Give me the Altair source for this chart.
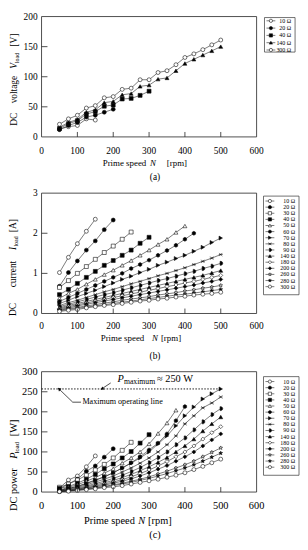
import altair as alt
import pandas as pd

FONT = "Liberation Serif"

# ---------------- data ----------------
N_ALL = [50, 75, 100, 125, 150, 175, 200, 225, 250, 275, 300, 325, 350, 375, 400, 425, 450, 475, 500]
X_TICKS = [0, 100, 200, 300, 400, 500, 600]
X_INNER = [100, 200, 300, 400, 500]
YA_TICKS = [0, 50, 100, 150, 200]
YB_TICKS = [0, 1, 2, 3]
YC_TICKS = [0, 50, 100, 150, 200, 250, 300]

SERIES = ["10 Ω", "20 Ω", "30 Ω", "40 Ω", "50 Ω", "60 Ω", "70 Ω", "80 Ω", "90 Ω",
          "140 Ω", "180 Ω", "200 Ω", "260 Ω", "280 Ω", "300 Ω"]
A_SERIES = ["10 Ω", "20 Ω", "40 Ω", "140 Ω", "300 Ω"]

# (a) DC voltage [V]
VA_10 = [13, 17, 19, 30, 28]
VA_20 = [12, 19, 24, 33, 36, 41, 46]
VA_40 = [14, 22, 27, 38, 42, 51, 53, 63, 64, 69, 76]
VA_140 = [16, 24, 29, 41, 45, 57, 59, 70, 72, 84, 86, 96, 98, 110, 122, 129, 136, 143, 150]
VA_300 = [21, 30, 36, 48, 52, 65, 67, 79, 81, 95, 95, 107, 110, 120, 132, 138, 145, 153, 161]

# (b) DC current [A]
IB_10 = [1.02, 1.40, 1.74, 2.05, 2.35]
IB_20 = [0.68, 1.02, 1.31, 1.58, 1.81, 2.09, 2.33]
IB_30 = [0.65, 0.82, 1.0, 1.17, 1.35, 1.52, 1.68, 1.85, 2.03]
IB_40 = [0.47, 0.6, 0.75, 0.9, 1.05, 1.2, 1.32, 1.45, 1.58, 1.75, 1.9]
IB_50 = [0.38, 0.5, 0.6, 0.73, 0.85, 0.97, 1.08, 1.2, 1.32, 1.45, 1.58, 1.72, 1.85, 2.02, 2.18]
IB_60 = [0.3, 0.4, 0.5, 0.6, 0.7, 0.8, 0.9, 1.0, 1.12, 1.22, 1.33, 1.45, 1.57, 1.7, 1.85, 2.0]
IB_70 = [0.25, 0.33, 0.42, 0.5, 0.58, 0.67, 0.76, 0.85, 0.93, 1.02, 1.1, 1.2, 1.28, 1.37, 1.45, 1.55, 1.65, 1.77, 1.88]
IB_80 = [0.2, 0.27, 0.33, 0.4, 0.47, 0.54, 0.6, 0.67, 0.74, 0.8, 0.87, 0.94, 1.0, 1.07, 1.14, 1.22, 1.3, 1.38, 1.47]
IB_90 = [0.17, 0.23, 0.29, 0.35, 0.41, 0.47, 0.52, 0.58, 0.64, 0.7, 0.76, 0.82, 0.87, 0.93, 0.99, 1.05, 1.12, 1.18, 1.25]
IB_140 = [0.14, 0.2, 0.25, 0.3, 0.35, 0.4, 0.45, 0.5, 0.55, 0.6, 0.65, 0.7, 0.75, 0.8, 0.85, 0.9, 0.95, 1.01, 1.07]
IB_180 = [0.12, 0.17, 0.22, 0.26, 0.31, 0.35, 0.4, 0.44, 0.49, 0.53, 0.58, 0.62, 0.67, 0.71, 0.76, 0.8, 0.85, 0.9, 0.95]
IB_200 = [0.1, 0.14, 0.19, 0.23, 0.27, 0.31, 0.35, 0.39, 0.43, 0.47, 0.51, 0.55, 0.59, 0.63, 0.67, 0.71, 0.76, 0.8, 0.85]
IB_260 = [0.08, 0.12, 0.15, 0.19, 0.22, 0.26, 0.29, 0.33, 0.36, 0.39, 0.42, 0.46, 0.49, 0.52, 0.56, 0.59, 0.63, 0.66, 0.7]
IB_280 = [0.07, 0.1, 0.13, 0.16, 0.19, 0.22, 0.25, 0.28, 0.31, 0.34, 0.37, 0.4, 0.43, 0.46, 0.48, 0.51, 0.54, 0.57, 0.6]
IB_300 = [0.05, 0.08, 0.1, 0.14, 0.17, 0.2, 0.22, 0.25, 0.28, 0.31, 0.33, 0.36, 0.38, 0.41, 0.43, 0.46, 0.48, 0.5, 0.53]

# (c) DC power [W]
PC_10 = [10, 30, 40, 63, 90]
PC_20 = [8, 20, 32, 52, 65, 87, 108]
PC_30 = [12, 20, 30, 42, 55, 69, 85, 104, 124]
PC_40 = [9, 14, 22, 32, 44, 58, 70, 85, 101, 122, 143]
PC_50 = [5, 12, 18, 27, 36, 47, 58, 72, 85, 100, 120, 146, 172, 204]
PC_60 = [4, 9, 14, 21, 29, 38, 48, 60, 73, 88, 105, 122, 145, 178, 213]
PC_70 = [4, 9, 14, 22, 30, 38, 48, 60, 72, 85, 100, 120, 140, 165, 190, 212, 232, 245, 257]
PC_80 = [3, 7, 12, 18, 25, 32, 40, 50, 60, 72, 85, 100, 118, 140, 170, 190, 210, 222, 237]
PC_90 = [3, 6, 10, 15, 21, 27, 34, 42, 51, 61, 73, 86, 100, 118, 135, 155, 175, 193, 208]
PC_140 = [2, 5, 8, 13, 18, 23, 29, 36, 44, 53, 63, 74, 86, 100, 115, 132, 152, 170, 187]
PC_180 = [2, 4, 7, 11, 15, 20, 25, 31, 38, 46, 55, 65, 76, 88, 100, 115, 132, 148, 163]
PC_200 = [2, 4, 6, 10, 13, 17, 22, 27, 33, 40, 48, 57, 66, 77, 88, 100, 115, 130, 145]
PC_260 = [1, 3, 5, 8, 11, 14, 18, 22, 27, 32, 38, 45, 52, 60, 68, 77, 88, 99, 110]
PC_280 = [1, 3, 5, 7, 10, 13, 16, 20, 24, 29, 34, 40, 46, 53, 60, 68, 77, 87, 97]
PC_300 = [1, 2, 4, 6, 8, 11, 13, 16, 20, 24, 28, 32, 37, 42, 48, 56, 64, 73, 82]

P_MAX_LINE = 257
P_MAX_TEXT = "≈ 250 W"
MAX_OP_TEXT = "Maximum operating line"

# ---------------- styling ----------------
STAR = "M0,-1L0.2245,-0.309L0.951,-0.309L0.363,0.118L0.588,0.809L0,0.382L-0.588,0.809L-0.363,0.118L-0.951,-0.309L-0.2245,-0.309Z"
HEX = "M0,-1L0.866,-0.5L0.866,0.5L0,1L-0.866,0.5L-0.866,-0.5Z"
AST = "M-0.8,-0.8L0.8,0.8M-0.8,0.8L0.8,-0.8M-1,0L1,0"
HALF = "M-0.35,-1L0,-1A1,1,0,0,1,0,1L-0.35,1Z"
SHAPES = ["circle", "circle", "square", "square", "triangle-up", HEX, "triangle-right", AST, HALF,
          "triangle-up", "diamond", "diamond", STAR, STAR, "circle"]
FILLS = ["white", "black", "white", "black", "white", "black", "black", "white", "black",
         "black", "white", "black", "white", "black", "white"]
SHAPE_SCALE = alt.Scale(domain=SERIES, range=SHAPES)
FILL_SCALE = alt.Scale(domain=SERIES, range=FILLS)

W, H = 218, 122
TOPS = {"a": 0, "b": 179, "c": 360}
ONE = pd.DataFrame({"k": [0]})
XS = alt.Scale(domain=[0, 600], nice=False, zero=False)


def long_df(pairs):
    rows = []
    for lab, vals in pairs:
        for n, v in zip(N_ALL, vals):
            rows.append({"R": lab, "N": n, "v": v})
    return pd.DataFrame(rows)


def txt(s, x, y, size, italic=False, angle=0, align="center"):
    kw = dict(text=s, font=FONT, fontSize=size, color="black", align=align, baseline="middle")
    if italic:
        kw["fontStyle"] = "italic"
    if angle:
        kw["angle"] = angle
    return alt.Chart(ONE).mark_text(**kw).encode(x=alt.value(x), y=alt.value(y))


def panel(T, df, ymax, yticks, leg_labels, leg, ytitle, xtitle, caption, xlab_dy, extra_fn=None):
    ys = alt.Scale(domain=[0, ymax], range=[T + H, T], nice=False, zero=False)
    fsz = ytitle["size"]
    X = alt.X("N:Q", scale=XS, axis=None)
    Y = alt.Y("v:Q", scale=ys, axis=None)
    layers = []
    frame = alt.Chart(ONE).mark_rect(fill="white", stroke="#222", strokeWidth=0.8).encode(
        x=alt.value(0), x2=alt.value(W), y=alt.value(T), y2=alt.value(T + H))
    layers.append(frame)
    if extra_fn is not None:
        layers += extra_fn(ys)
    lines = alt.Chart(df).mark_line(color="#222", strokeWidth=0.6).encode(
        x=X, y=Y, detail="R:N", order="N:Q")
    pts = alt.Chart(df).mark_point(filled=True, size=16, stroke="#111", strokeWidth=0.6, opacity=1).encode(
        x=X, y=Y,
        shape=alt.Shape("R:N", scale=SHAPE_SCALE, legend=None),
        fill=alt.Fill("R:N", scale=FILL_SCALE, legend=None))
    layers += [lines, pts]
    # inward tick marks
    xt = alt.Chart(pd.DataFrame({"t": X_INNER})).mark_rule(color="#222", strokeWidth=0.8).encode(
        x=alt.X("t:Q", scale=XS, axis=None), y=alt.value(T + H), y2=alt.value(T + H - 5))
    yt = alt.Chart(pd.DataFrame({"t": yticks[1:-1]})).mark_rule(color="#222", strokeWidth=0.8).encode(
        y=alt.Y("t:Q", scale=ys, axis=None), x=alt.value(0), x2=alt.value(6))
    # tick labels
    xl = alt.Chart(pd.DataFrame({"t": X_TICKS})).mark_text(
        font=FONT, fontSize=fsz, color="black", align="center", baseline="middle").encode(
        x=alt.X("t:Q", scale=XS, axis=None), y=alt.value(T + H + xlab_dy), text="t:Q")
    yl = alt.Chart(pd.DataFrame({"t": yticks})).mark_text(
        font=FONT, fontSize=fsz, color="black", align="right", baseline="middle").encode(
        y=alt.Y("t:Q", scale=ys, axis=None), x=alt.value(-4), text="t:Q")
    layers += [xt, yt, xl, yl]
    for s, x, y, it, sz in ytitle["parts"]:
        layers.append(txt(s, x, T + y, sz, italic=it, angle=270))
    for s, x, it in xtitle["parts"]:
        layers.append(txt(s, x, T + H + xtitle["dy"], xtitle["size"], italic=it, align="left"))
    layers.append(txt(caption[0], caption[1], T + H + caption[2], fsz))
    # legend
    x0, y0, lw, lh, first, step = leg
    box = alt.Chart(ONE).mark_rect(fill="white", stroke="#333", strokeWidth=0.7).encode(
        x=alt.value(x0), x2=alt.value(x0 + lw), y=alt.value(T + y0), y2=alt.value(T + y0 + lh))
    ldf = pd.DataFrame({"R": leg_labels, "i": list(range(len(leg_labels)))})
    base = alt.Chart(ldf).transform_calculate(pos=f"{T + y0 + first} + datum.i * {step}")
    LY = alt.Y("pos:Q", scale=None, axis=None)
    lrule = base.mark_rule(color="#222", strokeWidth=0.6).encode(
        x=alt.value(x0 + 2), x2=alt.value(x0 + 11), y=LY)
    lpts = base.mark_point(filled=True, size=11, stroke="#111", strokeWidth=0.6, opacity=1).encode(
        x=alt.value(x0 + 6.5), y=LY,
        shape=alt.Shape("R:N", scale=SHAPE_SCALE, legend=None),
        fill=alt.Fill("R:N", scale=FILL_SCALE, legend=None))
    ltxt = base.mark_text(align="right", baseline="middle", font=FONT, fontSize=6, color="black").encode(
        x=alt.value(x0 + lw - 4), y=LY, text="R:N")
    layers += [box, lrule, lpts, ltxt]
    return layers


def annotations(ys):
    TX = alt.X("x:Q", scale=XS, axis=None)
    TY = alt.Y("y:Q", scale=ys, axis=None)
    ann_line = alt.Chart(pd.DataFrame({"x": [0], "x2": [500], "y": [P_MAX_LINE]})).mark_rule(
        color="black", strokeWidth=0.9, strokeDash=[1.5, 1.5]).encode(x=TX, x2="x2:Q", y=TY)
    arrows = alt.Chart(pd.DataFrame({"id": [1, 1, 2, 2, 2], "k": [0, 1, 0, 1, 2],
                                     "x": [193, 171, 110, 87, 51], "y": [272, 259, 224, 224, 255]})).mark_line(
        color="black", strokeWidth=0.7).encode(x=TX, y=TY, detail="id:N", order="k:Q")
    head1 = alt.Chart(pd.DataFrame({"x": [170], "y": [258]})).mark_point(
        shape="triangle", filled=True, color="black", size=14, angle=235, opacity=1).encode(x=TX, y=TY)
    head2 = alt.Chart(pd.DataFrame({"x": [50], "y": [256]})).mark_point(
        shape="triangle", filled=True, color="black", size=14, angle=314, opacity=1).encode(x=TX, y=TY)
    tp_df = pd.DataFrame({"x": [212], "y": [281]})
    t_p = alt.Chart(tp_df).mark_text(text="P", font=FONT, fontSize=10.5, fontStyle="italic", align="left",
                                     baseline="middle", color="black").encode(x=TX, y=TY)
    t_max = alt.Chart(tp_df).mark_text(text="maximum", font=FONT, fontSize=7.8, align="left", dx=6.5, dy=3,
                                       baseline="middle", color="black").encode(x=TX, y=TY)
    t_250 = alt.Chart(tp_df).mark_text(text=P_MAX_TEXT, font=FONT, fontSize=10.5, align="left", dx=40,
                                       baseline="middle", color="black").encode(x=TX, y=TY)
    t_op = alt.Chart(pd.DataFrame({"x": [114], "y": [224]})).mark_text(
        text=MAX_OP_TEXT, font=FONT, fontSize=8.2, align="left", baseline="middle", color="black").encode(x=TX, y=TY)
    return [ann_line, arrows, head1, head2, t_p, t_max, t_250, t_op]


# ---------- panel (a)
df_a = long_df(list(zip(A_SERIES, [VA_10, VA_20, VA_40, VA_140, VA_300])))
la = panel(
    TOPS["a"], df_a, 200, YA_TICKS, A_SERIES, (226, 1, 31, 35, 3.3, 7.4),
    {"size": 9.5, "parts": [("DC", -28, 104, False, 9.5), ("voltage", -28, 74, False, 9.5),
                             ("V", -28, 50, True, 9.5), ("load", -25, 42, False, 6),
                             ("[V]", -28, 24, False, 9.5)]},
    {"dy": 26, "size": 9, "parts": [("Prime speed", 62, False), ("N", 110, True), ("[rpm]", 127, False)]},
    ("(a)", 115, 41), 14)

# ---------- panel (b)
df_b = long_df(list(zip(SERIES, [IB_10, IB_20, IB_30, IB_40, IB_50, IB_60, IB_70, IB_80, IB_90,
                                 IB_140, IB_180, IB_200, IB_260, IB_280, IB_300])))
lb = panel(
    TOPS["b"], df_b, 3, YB_TICKS, SERIES, (225, 3, 36, 100, 5, 6.2),
    {"size": 9.5, "parts": [("DC", -29, 118, False, 9.5), ("current", -29, 82, False, 9.5),
                             ("I", -29, 56, True, 9.5), ("load", -26, 49, False, 6),
                             ("[A]", -29, 33, False, 9.5)]},
    {"dy": 25, "size": 9, "parts": [("Prime speed", 60, False), ("N", 112, True), ("[rpm]", 121, False)]},
    ("(b)", 115, 43), 13)

# ---------- panel (c)
df_c = long_df(list(zip(SERIES, [PC_10, PC_20, PC_30, PC_40, PC_50, PC_60, PC_70, PC_80, PC_90,
                                 PC_140, PC_180, PC_200, PC_260, PC_280, PC_300])))
lc = panel(
    TOPS["c"], df_c, 300, YC_TICKS, SERIES, (225, 5, 36, 100, 5, 6.2),
    {"size": 10.5, "parts": [("DC", -27.5, 134, False, 10.5), ("power", -27.5, 111, False, 10.5),
                              ("P", -27.5, 85, True, 10.5), ("load", -24.5, 77, False, 6.5),
                              ("[W]", -27.5, 57, False, 10.5)]},
    {"dy": 29, "size": 10.5, "parts": [("Prime speed", 43, False), ("N", 98, True), ("[rpm]", 108, False)]},
    ("(c)", 115, 44), 14, extra_fn=annotations)

chart = alt.layer(*(la + lb + lc)).resolve_scale(y="independent").properties(
    width=W, height=TOPS["c"] + H,
    padding={"left": 0, "top": 0, "right": 0, "bottom": 0}
).configure_view(stroke=None)

chart.save("out.html", embed_options={"renderer": "svg", "actions": False})
